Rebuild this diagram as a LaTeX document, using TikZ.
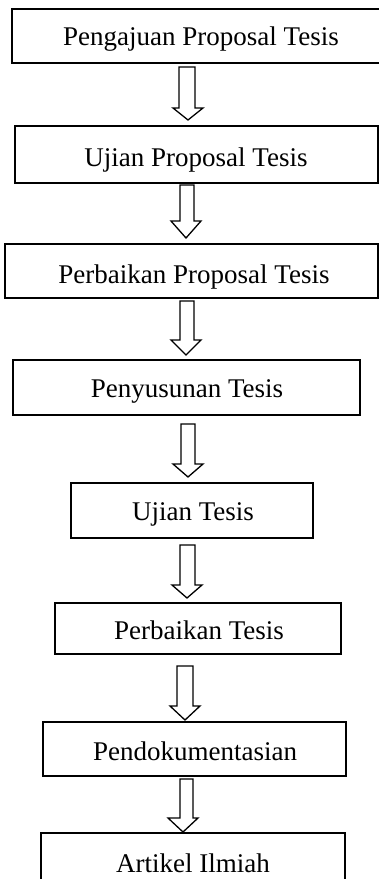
\documentclass[tikz,border=0pt]{standalone}
\usepackage{fontspec}
\setmainfont{Liberation Serif}
\tikzset{
  box/.style={draw=black, line width=1.6pt, inner sep=0pt, rectangle},
  lbl/.style={anchor=base, inner sep=0pt, font=\fontsize{27}{30}\selectfont},
  blockarr/.style={draw=black, line width=1.3pt, fill=white, line join=miter}
}
\newcommand{\blkarrow}[7]{%
  \draw[blockarr] (#1,#3) -- (#1,#4) -- (#5,#4) -- ({(#5+#6)/2},#7) -- (#6,#4) -- (#2,#4) -- (#2,#3) -- cycle;}
\begin{document}
\begin{tikzpicture}[x=1pt,y=-1pt]
\useasboundingbox[fill=white] (0,0) rectangle (379,879);
% boxes
\node[box, minimum width=369pt, minimum height=54pt] (b1) at (196.5,36) {};
\node[box, minimum width=363pt, minimum height=57pt] (b2) at (196.5,154.5) {};
\node[box, minimum width=373pt, minimum height=54pt] (b3) at (191.5,271) {};
\node[box, minimum width=347pt, minimum height=55pt] (b4) at (186.5,387.5) {};
\node[box, minimum width=242pt, minimum height=55pt] (b5) at (192,510.5) {};
\node[box, minimum width=286pt, minimum height=51pt] (b6) at (198,628.5) {};
\node[box, minimum width=303pt, minimum height=54pt] (b7) at (194.5,749) {};
\node[box, minimum width=304pt, minimum height=67pt] (b8) at (193,866.5) {};
% labels
\node[lbl] (t1) at (201,45) {Pengajuan Proposal Tesis};
\node[lbl] (t2) at (196,166) {Ujian Proposal Tesis};
\node[lbl] (t3) at (194,283) {Perbaikan Proposal Tesis};
\node[lbl] (t4) at (187,397) {Penyusunan Tesis};
\node[lbl] (t5) at (193,520) {Ujian Tesis};
\node[lbl] (t6) at (199,639) {Perbaikan Tesis};
\node[lbl] (t7) at (195,760) {Pendokumentasian};
\node[lbl] (t8) at (193,872) {Artikel Ilmiah};
% block arrows
\blkarrow{179}{195}{67}{108}{173}{203}{120}
\blkarrow{180}{194}{185}{221}{171}{201}{238}
\blkarrow{180}{194}{301}{340}{171}{201}{355}
\blkarrow{181}{195}{424}{464}{173}{203}{477}
\blkarrow{180}{195}{545}{585}{172}{202}{598}
\blkarrow{177}{193}{666}{706}{170}{200}{720}
\blkarrow{180}{193}{779}{818}{168}{198}{832}
\end{tikzpicture}
\end{document}
